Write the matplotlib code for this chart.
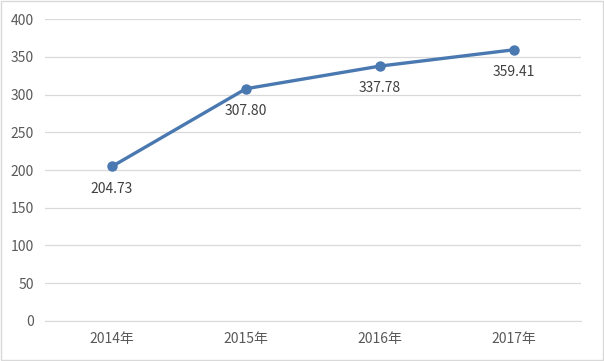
import matplotlib
matplotlib.use("Agg")
import matplotlib.pyplot as plt
from matplotlib.patches import Rectangle

plt.rcParams['font.family'] = ['Noto Sans CJK SC', 'DejaVu Sans']

years = ["2014年", "2015年", "2016年", "2017年"]
values = [204.73, 307.80, 337.78, 359.41]
labels = ["204.73", "307.80", "337.78", "359.41"]

fig = plt.figure(figsize=(6.04, 3.61), dpi=100)
ax = fig.add_axes([0.0745, 0.111, 0.8875, 0.836])

x = range(len(years))
ax.plot(x, values, color="#4a78b0", linewidth=2.4, marker="o", markersize=6.5, zorder=3)

for xi, v, lab in zip(x, values, labels):
    ax.annotate(lab, (xi, v), xytext=(0, -11), textcoords="offset points",
                ha="center", va="top", fontsize=10, color="#404040")

ax.set_xlim(-0.5, 3.5)
ax.set_ylim(0, 400)
ax.set_yticks(range(0, 401, 50))
ax.set_xticks(list(x))
ax.set_xticklabels(years)
ax.grid(True, axis="y", color="#d9d9d9", linewidth=0.9)
ax.set_axisbelow(True)
for s in ax.spines.values():
    s.set_visible(False)
ax.spines["bottom"].set_visible(True)
ax.spines["bottom"].set_color("#d9d9d9")
ax.tick_params(axis="both", length=0, labelsize=10, labelcolor="#595959")
ax.tick_params(axis="x", pad=8)
ax.tick_params(axis="y", pad=8)

fig.patches.append(Rectangle((0.002, 0.004), 0.996, 0.992, transform=fig.transFigure,
                             fill=False, edgecolor="#d9d9d9", linewidth=1.0))

plt.savefig("out.png", dpi=100)
